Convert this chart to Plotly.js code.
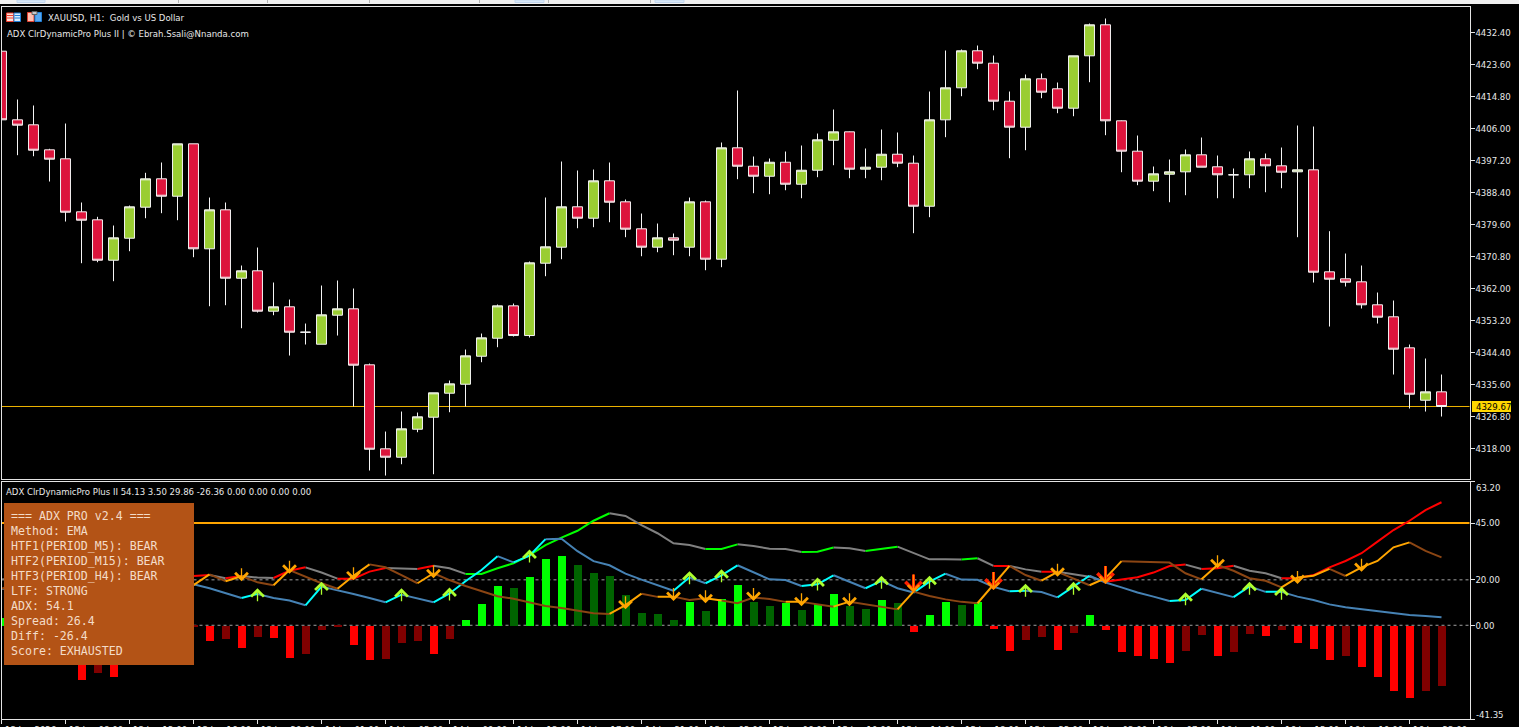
<!DOCTYPE html>
<html><head><meta charset="utf-8">
<script src="https://cdn.plot.ly/plotly-3.0.0.min.js"></script>
<style>html,body{margin:0;padding:0;background:#000;overflow:hidden}#c{width:1519px;height:727px}</style>
</head><body><div id="c"></div>
<script>
const priceOpen=[4427.37,4408.50,4407.13,4400.25,4397.78,4383.20,4381.00,4369.89,4375.94,4384.47,
4392.28,4387.49,4401.90,4373.03,4383.75,4364.94,4366.98,4355.87,4357.08,4350.09,
4346.79,4354.77,4356.53,4341.13,4318.03,4315.72,4323.42,4326.72,4333.32,4335.79,
4343.49,4348.44,4357.35,4349.18,4369.07,4373.47,4384.58,4381.44,4391.73,4385.95,
4378.53,4373.47,4376.05,4373.47,4385.95,4370.17,4400.80,4395.74,4392.99,4396.84,
4390.79,4394.64,4402.89,4405.20,4394.92,4395.47,4399.04,4396.57,4384.74,4408.50,
4417.30,4427.48,4424.07,4413.62,4406.47,4419.78,4417.03,4411.69,4426.10,4434.63,
4408.23,4399.87,4391.62,4393.54,4394.20,4398.88,4395.58,4393.38,4393.38,4397.78,
4395.85,4394.20,4394.75,4366.70,4364.78,4363.95,4357.63,4354.33,4345.80,4331.39,4333.70];
const priceClose=[4408.50,4407.02,4400.14,4397.67,4383.09,4380.89,4369.89,4376.05,4384.58,4392.28,
4387.49,4401.90,4373.03,4383.75,4364.94,4366.98,4355.87,4357.08,4350.09,4350.09,
4354.88,4356.53,4341.02,4317.92,4315.72,4323.53,4326.83,4333.43,4335.90,4343.60,
4348.55,4357.35,4349.18,4369.18,4373.58,4384.58,4381.44,4391.73,4385.84,4378.42,
4373.47,4376.05,4375.39,4385.95,4370.17,4400.80,4395.74,4392.99,4396.84,4390.79,
4394.64,4403.00,4405.20,4394.92,4395.47,4399.04,4396.57,4384.74,4408.50,4417.30,
4427.48,4424.07,4413.62,4406.47,4419.78,4416.09,4411.69,4426.10,4434.63,4408.23,
4399.87,4391.62,4393.65,4394.20,4398.88,4395.47,4393.38,4393.38,4397.78,4395.85,
4394.09,4394.75,4366.59,4364.67,4363.84,4357.63,4354.22,4345.42,4333.04,4333.70,4329.67];
const priceHigh=[4427.37,4414.09,4412.44,4400.53,4407.48,4385.76,4381.83,4379.43,4384.93,4393.93,
4396.76,4401.90,4401.90,4387.13,4385.76,4368.43,4373.38,4363.76,4359.08,4352.48,
4362.93,4364.31,4362.11,4341.48,4322.78,4328.28,4328.01,4333.43,4336.81,4345.33,
4349.73,4357.71,4357.98,4369.53,4387.13,4397.03,4394.56,4394.83,4396.76,4386.58,
4382.73,4379.98,4377.23,4387.13,4386.31,4402.26,4416.56,4398.41,4397.86,4399.78,
4401.43,4404.73,4411.33,4405.28,4400.61,4405.83,4405.01,4398.68,4416.28,4427.56,
4427.83,4428.93,4426.18,4416.28,4420.96,4421.23,4418.76,4426.10,4434.98,4436.36,
4408.31,4404.18,4395.66,4397.58,4400.33,4403.63,4398.68,4395.11,4399.78,4399.23,
4400.88,4406.93,4406.66,4377.87,4371.73,4368.43,4361.01,4358.81,4346.71,4342.86,4338.46];
const priceLow=[4408.50,4398.77,4398.49,4391.53,4380.53,4369.07,4369.34,4364.12,4372.37,4381.44,
4382.82,4380.89,4370.72,4357.24,4357.52,4351.19,4355.51,4354.77,4343.68,4346.71,
4346.79,4349.18,4329.66,4312.06,4310.68,4313.79,4322.59,4311.04,4328.09,4329.66,
4341.84,4345.97,4348.91,4348.63,4365.49,4370.17,4378.69,4378.97,4380.34,4376.22,
4370.99,4372.09,4371.27,4370.99,4367.14,4367.97,4392.17,4388.32,4388.04,4389.14,
4386.94,4392.72,4396.02,4392.44,4392.44,4391.89,4395.47,4377.32,4381.72,4403.72,
4414.99,4422.42,4411.14,4397.94,4400.14,4414.44,4410.32,4409.49,4418.84,4404.27,
4394.09,4390.52,4388.87,4385.84,4387.77,4395.47,4386.94,4386.94,4389.69,4388.59,
4389.69,4376.22,4363.76,4351.66,4362.66,4356.61,4352.48,4338.46,4329.11,4328.28,4326.91];
const priceTicks=[4318,4326.8,4335.6,4344.4,4353.2,4362,4370.8,4379.6,4388.4,4397.2,4406,4414.8,4423.6,4432.4];
const lastPrice=4329.67;

const histValues=[3.4,5.2,4.1,-4.0,-8.3,-23.9,-21.0,-22.7,-11.5,-9.2,
-12.1,-6.4,-0.5,-6.9,-6.0,-9.8,-5.1,-5.6,-14.4,-12.6,
-2.1,-0.7,-8.7,-15.2,-14.8,-7.8,-6.9,-12.6,-6.0,2.3,
9.4,17.3,16.4,21.3,29.2,30.5,26.5,23.0,21.7,13.3,
5.4,5.0,2.3,10.3,6.3,11.6,17.7,10.3,8.5,9.8,
6.7,9.4,13.8,8.5,7.2,11.1,9.8,-2.9,4.5,10.3,
8.9,10.3,-1.6,-11.3,-6.5,-5.1,-10.9,-3.4,4.5,-2.1,
-11.7,-13.5,-14.8,-16.6,-11.3,-4.3,-13.5,-11.7,-3.8,-4.7,
-2.1,-7.8,-10.4,-15.2,-13.5,-18.3,-22.7,-28.9,-32.0,-28.9,-26.36];
const histState="LLLRRRDRDR"+"RDDRDRDRRD"+"DDRRDDDRDL"+"LLGLLLGGGG"+"GGGLGLLGGL"+"GLLGGLGRLL"+"GLRRDDRDLR"+"RRRRDDRDDR"+"DRRRDRRRRD"+"D";

const adxValues=[20.2,21.0,21.8,22.5,23.1,23.4,23.3,23.0,22.6,22.2,
21.9,21.8,21.7,22.1,20.7,21.7,21.0,20.8,24.0,25.5,
23.2,20.5,20.5,23.6,25.2,24.9,24.8,26.2,25.1,22.6,
22.6,25.1,27.3,30.9,35.3,38.6,41.6,46.0,49.3,48.1,
44.1,40.5,36.1,35.3,33.6,33.6,35.6,34.9,33.7,33.6,
32.2,32.4,34.2,33.9,32.7,33.7,34.6,31.7,29.0,29.0,
28.9,29.5,26.1,26.1,24.6,23.6,23.6,22.4,21.4,19.2,
20.2,21.1,23.2,26.1,26.7,24.8,25.1,26.2,24.0,22.9,
20.7,20.7,22.1,25.5,28.3,31.7,36.8,41.9,46.0,50.7,54.13];
const adxState="gggggggggg"+"gggrgrggrr"+"ggrrrggrgg"+"LLLLLLLLLg"+"gggggLLggg"+"gLLggLLggg"+"gLgrggrggg"+"rrrrrgrrgg"+"grrrrrrrrr"+"r";

const plusValues=[16.0,16.8,17.5,18.0,18.5,18.9,19.2,19.0,18.6,18.4,
18.2,18.1,18.0,16.3,14.1,12.0,13.8,12.0,10.9,8.8,
17.0,15.5,13.8,12.0,10.1,13.5,11.7,10.1,14.0,19.4,
24.3,30.4,27.7,30.6,37.9,38.1,32.6,28.2,26.4,22.7,
20.1,17.7,15.2,21.1,18.5,22.0,26.4,23.2,20.2,19.9,
17.3,18.0,22.0,19.2,16.3,19.5,16.3,14.4,19.2,22.7,
20.1,20.0,16.9,15.0,15.2,14.6,12.3,17.2,21.8,18.8,
16.7,14.4,12.6,10.7,11.1,16.1,14.1,12.4,17.1,14.7,
14.7,12.6,11.1,9.2,7.9,7.0,6.2,5.4,4.5,4.1,3.5];
const plusState="bbbbbbbbbb"+"bbbbbbcbbb"+"cbbbbcbbcc"+"ccbccbbbbb"+"bbbcbccbbb"+"bccbbcbbcc"+"bbbbcbbccb"+"bbbbccbbcb"+"cbbbbbbbbb"+"b";

const minusValues=[16.0,19.0,20.5,21.5,22.3,22.0,21.0,20.0,19.5,19.0,
18.5,18.0,17.7,22.4,19.4,21.6,18.9,17.6,24.3,21.4,
18.5,16.1,21.8,26.8,25.5,22.1,18.5,22.9,19.9,17.3,
15.2,12.8,11.7,10.0,8.5,7.6,6.5,5.3,5.0,8.9,
13.9,12.5,12.6,11.1,11.9,10.9,9.7,12.2,11.6,10.3,
10.3,9.4,8.2,10.4,9.2,8.2,7.0,14.8,12.9,11.4,
10.3,9.7,17.7,26.1,22.1,19.6,23.5,20.7,17.6,20.7,
28.2,27.9,27.6,27.6,22.9,20.2,26.5,24.0,20.7,19.6,
16.7,21.0,21.8,24.8,21.7,25.5,28.3,34.3,36.5,32.7,29.86];
const minusState="onooonnnnn"+"nnnononnon"+"nnoonnnonn"+"nnnnnnnnno"+"ononnonnnn"+"onnonnnonn"+"nnoonnonno"+"onnnnnonnn"+"nooonoooon"+"n";

const upIdx=[16,20,25,28,33,43,45,51,55,58,64,67,74,78,80];
const upVal=[16.3,19.2,16.3,16.6,33.3,23.8,24.6,21.0,21.8,21.8,18.3,19.1,14.5,19.1,17.0];
const downIdx=[15,18,22,27,39,42,44,47,50,53,66,76,81,85];
const downVal=[19.4,22.7,19.8,20.7,7.0,10.7,9.7,10.7,8.4,8.4,21.4,25.1,18.2,23.5];
const bigDownIdx=[57,62,69];
const bigDownVal=[14.4,15.5,18.2];

const indicatorTicks=[-41.35,0,20,45,63.2];
const indicatorTickText=['','0.00','20.00','45.00',''];
const timeTickIdx=[0,4,8,12,16,20,24,28,32,36,40,44,48,52,56,60,64,68,72,76,80,84,88];
const timeLabels=['13 Jan 2026','13 Jan 08:00','13 Jan 12:00','13 Jan 16:00','13 Jan 20:00','14 Jan 01:00','14 Jan 05:00','14 Jan 09:00','14 Jan 13:00','14 Jan 17:00','14 Jan 21:00','15 Jan 02:00','15 Jan 06:00','15 Jan 10:00','15 Jan 14:00','15 Jan 18:00','15 Jan 22:00','16 Jan 03:00','16 Jan 07:00','16 Jan 11:00','16 Jan 15:00','16 Jan 19:00','16 Jan 23:00'];
const panelLines=['=== ADX PRO v2.4 ===','Method: EMA','HTF1(PERIOD_M5): BEAR','HTF2(PERIOD_M15): BEAR','HTF3(PERIOD_H4): BEAR','LTF: STRONG','ADX: 54.1','Spread: 26.4','Diff: -26.4','Score: EXHAUSTED'];

const W=1519,H=727;
const px=x=>x/W, py=y=>1-y/H;
const idx=priceOpen.map((_,i)=>i);
const SANS='DejaVu Sans Condensed, Liberation Sans, Arial, sans-serif';
const TXT='#e8e8e8';

function segTrace(values,states,key,color){
  const x=[],y=[];let last=-2;
  for(let i=1;i<values.length;i++){
    if(states[i]!==key)continue;
    if(last!==i-1){ if(x.length){x.push(null);y.push(null);} x.push(i-1);y.push(values[i-1]); }
    x.push(i);y.push(values[i]);last=i;
  }
  return {type:'scatter',mode:'lines',x,y,xaxis:'x2',yaxis:'y2',line:{color,width:2},connectgaps:false,hoverinfo:'skip',showlegend:false};
}
const histColor={R:'#ff0000',D:'#800000',L:'#00ff00',G:'#006400'};

const traces=[
 {type:'candlestick',x:idx,open:priceOpen,high:priceHigh,low:priceLow,close:priceClose,xaxis:'x',yaxis:'y',whiskerwidth:0,
  increasing:{fillcolor:'#9acd32',line:{color:'#f5f5f5',width:1}},
  decreasing:{fillcolor:'#dc143c',line:{color:'#f5f5f5',width:1}},showlegend:false,hoverinfo:'skip'},
 {type:'bar',x:idx,y:histValues,xaxis:'x2',yaxis:'y2',width:0.5,marker:{color:idx.map(i=>histColor[histState[i]]),line:{width:0}},showlegend:false,hoverinfo:'skip'},
 segTrace(adxValues,adxState,'g','#808080'),
 segTrace(adxValues,adxState,'r','#ff0000'),
 segTrace(adxValues,adxState,'L','#00ff00'),
 segTrace(plusValues,plusState,'b','#4682b4'),
 segTrace(plusValues,plusState,'c','#00ffff'),
 segTrace(minusValues,minusState,'n','#8b4513'),
 segTrace(minusValues,minusState,'o','#ffa500')
];

function txt(x,y,text,size,color,family){
  return {xref:'paper',yref:'paper',x:px(x),y:py(y),xanchor:'left',yanchor:'middle',showarrow:false,text,borderpad:0,
    font:{size,color,family:family||SANS}};
}
function arrow(i,v,len,color,w,s){
  return {xref:'x2',yref:'y2',x:i,y:v,axref:'pixel',ayref:'pixel',ax:0,ay:len,showarrow:true,arrowhead:4,arrowcolor:color,arrowwidth:w,arrowsize:s,standoff:0,text:' ',font:{size:1},borderpad:0,borderwidth:0};
}
const anns=[];
upIdx.forEach((i,k)=>anns.push(arrow(i,upVal[k],13,'#adff2f',1.3,1.9)));
downIdx.forEach((i,k)=>anns.push(arrow(i,downVal[k],-13,'#ffa500',1.3,1.9)));
bigDownIdx.forEach((i,k)=>{
  anns.push(arrow(i,bigDownVal[k],-18,'#ff2000',3,1.05));
  anns.push(arrow(i,bigDownVal[k],-18,'#ff9000',1.3,1.7));
});
anns.push(txt(47,17.5,'XAUUSD, H1:&nbsp; Gold vs US Dollar',9.5,TXT));
anns.push(txt(5.5,33,'ADX ClrDynamicPro Plus II | © Ebrah.Ssali@Nnanda.com',9.5,TXT));
anns.push(txt(5,491.5,'ADX ClrDynamicPro Plus II 54.13 3.50 29.86 -26.36 0.00 0.00 0.00 0.00',9.5,TXT));
anns.push(txt(1474.5,487.3,'63.20',9.5,TXT));
anns.push(txt(1474.5,714,'-41.35',9.5,TXT));
anns.push(txt(1474.5,406.8,lastPrice.toFixed(2),9.5,'#000'));
panelLines.forEach((t,k)=>anns.push(txt(10,516+15*k,t,11.6,'#f3dcc8','DejaVu Sans Mono, monospace')));
timeTickIdx.forEach((i,k)=>anns.push({xref:'x2',yref:'paper',x:i,y:py(723),xanchor:'left',yanchor:'top',xshift:2,showarrow:false,text:timeLabels[k],borderpad:0,font:{size:9.5,color:TXT,family:SANS}}));

function rect(x0,y0,x1,y1,fill,line){
  return {type:'rect',xref:'paper',yref:'paper',x0:px(x0),x1:px(x1),y0:py(y0),y1:py(y1),fillcolor:fill,line:line?{color:line,width:1}:{width:0},layer:'above'};
}
function hline(x0,x1,y,color){return {type:'line',xref:'paper',yref:'paper',x0:px(x0),x1:px(x1),y0:py(y),y1:py(y),line:{color,width:1},layer:'above'};}
const shapes=[
 {type:'line',xref:'paper',yref:'y',x0:px(1.5),x1:px(1469.5),y0:lastPrice,y1:lastPrice,line:{color:'#eeb400',width:1},layer:'below'},
 {type:'line',xref:'paper',yref:'y2',x0:px(1.5),x1:px(1469.5),y0:45,y1:45,line:{color:'#ffa500',width:2},layer:'below'},
 {type:'line',xref:'paper',yref:'y2',x0:px(1.5),x1:px(1469.5),y0:20,y1:20,line:{color:'#a0a0a0',width:1,dash:'3px,3px'},layer:'below'},
 {type:'line',xref:'paper',yref:'y2',x0:px(1.5),x1:px(1469.5),y0:0,y1:0,line:{color:'#a0a0a0',width:1,dash:'3px,3px'},layer:'below'},
 rect(4,503,194,665,'#b35316'),
 rect(1472,401,1511,412,'#ffd700'),
 rect(0,0,1519,4,'#f0f0f0'),
 rect(17,0,45,2.5,'#d8e8f8','#c0d4ec'),
 rect(515,0,544,2.5,'#d8e8f8','#c0d4ec'),
 rect(655,0,684,2.5,'#d8e8f8','#c0d4ec'),
 rect(178,0,179,3,'#b0b0b0'),rect(267,0,268,3,'#b0b0b0'),rect(369,0,370,3,'#b0b0b0'),rect(479,0,480,3,'#b0b0b0'),rect(548,0,549,3,'#b0b0b0'),rect(650,0,651,3,'#b0b0b0'),
 rect(6.5,13,13.5,21.5,'#ffe0d8','#f04030'),
 rect(14,13,20.5,21.5,'#d8ecff','#2080d8'),
 hline(7,13,15.5,'#f04030'),hline(7,13,18,'#f04030'),hline(14.5,20,15.5,'#2080d8'),hline(14.5,20,18,'#2080d8'),
 rect(27.5,12.5,34,21.5,'#ffc0b0','#e04030'),
 rect(35,12.5,41.5,21.5,'#58a8f0','#2080d8'),
 rect(32,11.5,37,14.5,'#c8c8c8','#606060')
];

const frame='#e4e4e4';
const tickFont={size:9.5,color:TXT,family:SANS};
const layout={
 width:W,height:H,margin:{l:0,r:0,t:0,b:0},paper_bgcolor:'#000',plot_bgcolor:'#000',showlegend:false,dragmode:false,
 boxgap:0.38,boxgroupgap:0,bargap:0,
 xaxis:{domain:[px(1.5),px(1469.5)],range:[0,91.75],type:'linear',anchor:'y',showgrid:false,zeroline:false,showticklabels:false,ticks:'',rangeslider:{visible:false},showline:true,mirror:true,linecolor:frame,linewidth:1},
 yaxis:{domain:[py(479),py(6.5)],range:[4309.73,4439.66],side:'right',anchor:'x',showgrid:false,zeroline:false,tickmode:'array',tickvals:priceTicks,tickformat:'.2f',ticks:'outside',ticklen:4,tickcolor:frame,tickwidth:1,tickfont:tickFont,ticklabelstandoff:-1,showline:true,mirror:true,linecolor:frame,linewidth:1},
 xaxis2:{domain:[px(1.5),px(1469.5)],range:[0,91.75],type:'linear',anchor:'y2',showgrid:false,zeroline:false,showticklabels:false,tickmode:'array',tickvals:timeTickIdx,ticks:'outside',ticklen:4,tickcolor:frame,showline:true,mirror:true,linecolor:frame,linewidth:1},
 yaxis2:{domain:[py(719.25),py(481.65)],range:[-41.35,63.2],side:'right',anchor:'x2',showgrid:false,zeroline:false,tickmode:'array',tickvals:indicatorTicks,ticktext:indicatorTickText,ticks:'outside',ticklen:4,tickcolor:frame,tickwidth:1,tickfont:tickFont,ticklabelstandoff:-1,showline:true,mirror:true,linecolor:frame,linewidth:1},
 shapes,annotations:anns
};
Plotly.newPlot('c',traces,layout,{displayModeBar:false,responsive:false});
</script></body></html>
